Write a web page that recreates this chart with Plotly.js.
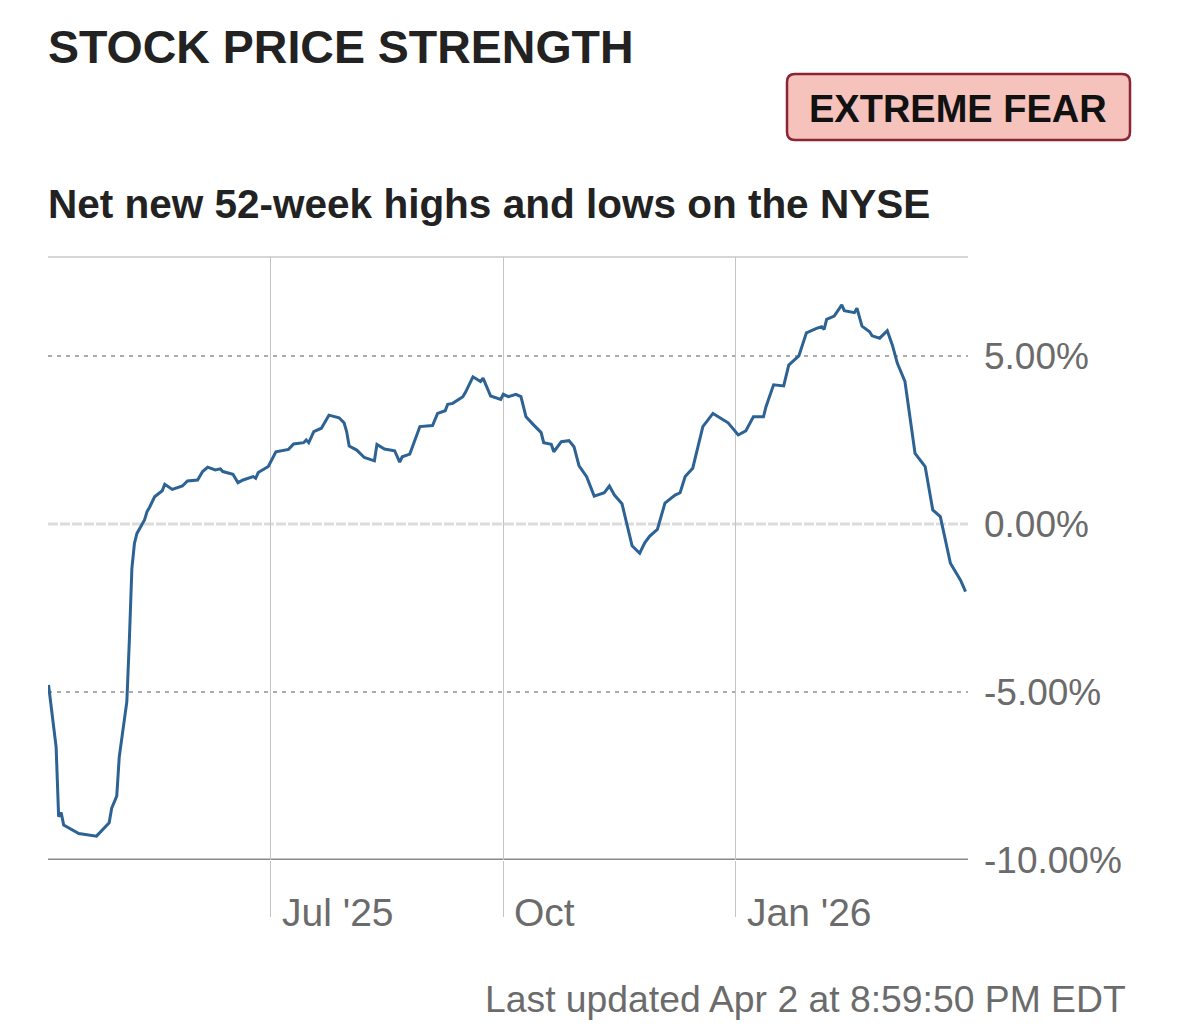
<!DOCTYPE html>
<html>
<head>
<meta charset="utf-8">
<script src="https://cdn.plot.ly/plotly-3.0.1.min.js"></script>
<style>
  html, body { margin: 0; padding: 0; background: #ffffff; }
  #chart { width: 1179px; height: 1033px; }
</style>
</head>
<body>
<div id="chart"></div>
<script>
// ---- Data ----
const chartTitle = "STOCK PRICE STRENGTH";
const chartSubtitle = "Net new 52-week highs and lows on the NYSE";
const ratingLabel = "EXTREME FEAR";
const footerText = "Last updated Apr 2 at 8:59:50 PM EDT";

const dates = [
  '2025-04-04','2025-04-07','2025-04-08','2025-04-09','2025-04-10','2025-04-16','2025-04-23','2025-04-28','2025-04-29',
  '2025-05-01','2025-05-02','2025-05-05','2025-05-06','2025-05-07','2025-05-08','2025-05-09','2025-05-12','2025-05-13','2025-05-14','2025-05-16','2025-05-19','2025-05-20','2025-05-23','2025-05-27','2025-05-29',
  '2025-06-02','2025-06-04','2025-06-06','2025-06-09','2025-06-11','2025-06-12','2025-06-16','2025-06-18','2025-06-20','2025-06-24','2025-06-25','2025-06-26','2025-06-30',
  '2025-07-03','2025-07-08','2025-07-10','2025-07-14','2025-07-15','2025-07-16','2025-07-18','2025-07-21','2025-07-24','2025-07-28','2025-07-30','2025-07-31',
  '2025-08-01','2025-08-04','2025-08-07','2025-08-11','2025-08-12','2025-08-15','2025-08-19','2025-08-21','2025-08-22','2025-08-25','2025-08-29',
  '2025-09-03','2025-09-05','2025-09-08','2025-09-09','2025-09-11','2025-09-15','2025-09-16','2025-09-19','2025-09-22','2025-09-23','2025-09-26','2025-09-30',
  '2025-10-01','2025-10-03','2025-10-06','2025-10-08','2025-10-10','2025-10-13','2025-10-16','2025-10-17','2025-10-20','2025-10-21','2025-10-24','2025-10-27','2025-10-29','2025-10-31',
  '2025-11-03','2025-11-06','2025-11-10','2025-11-12','2025-11-14','2025-11-17','2025-11-19','2025-11-21','2025-11-24','2025-11-26','2025-11-28',
  '2025-12-01','2025-12-04','2025-12-08','2025-12-10','2025-12-12','2025-12-15','2025-12-19','2025-12-23','2025-12-29',
  '2026-01-02','2026-01-05','2026-01-08','2026-01-12','2026-01-13','2026-01-16','2026-01-20','2026-01-22','2026-01-26','2026-01-29',
  '2026-02-02','2026-02-04','2026-02-05','2026-02-06','2026-02-09','2026-02-12','2026-02-13','2026-02-17','2026-02-18','2026-02-20','2026-02-23','2026-02-24','2026-02-27',
  '2026-03-02','2026-03-04','2026-03-06','2026-03-09','2026-03-11','2026-03-13','2026-03-17','2026-03-20','2026-03-23','2026-03-27','2026-03-31',
  '2026-04-02'
];

const netHighsLows = [
  -4.79,-6.63,-8.71,-8.59,-8.96,-9.21,-9.29,-8.89,-8.46,
  -8.10,-6.93,-5.29,-3.45,-1.32,-0.58,-0.28,0.12,0.37,0.50,0.81,0.99,1.18,1.03,1.13,1.28,
  1.31,1.56,1.69,1.61,1.64,1.56,1.48,1.23,1.31,1.41,1.36,1.53,1.71,
  2.15,2.22,2.38,2.42,2.50,2.42,2.75,2.85,3.24,3.16,3.01,2.75,
  2.32,2.20,1.98,1.88,2.37,2.23,2.18,1.84,2.00,2.08,2.90,
  2.93,3.29,3.37,3.56,3.59,3.79,3.91,4.38,4.24,4.34,3.81,3.71,
  3.86,3.79,3.86,3.79,3.19,2.95,2.72,2.42,2.37,2.15,2.45,2.48,2.30,1.73,
  1.41,0.83,0.93,1.13,0.86,0.60,0.02,-0.65,-0.87,-0.56,-0.36,
  -0.16,0.62,0.86,0.93,1.41,1.66,2.90,3.29,3.01,
  2.65,2.77,3.19,3.19,3.49,4.14,4.11,4.73,5.00,5.69,
  5.82,5.87,5.79,6.09,6.19,6.52,6.35,6.29,6.42,5.89,5.72,5.60,5.53,
  5.75,5.33,4.78,4.24,3.19,2.10,1.71,0.42,0.22,-1.17,-1.67,
  -2.01
];

const xTickDates = ['2025-07-01', '2025-10-01', '2026-01-01'];
const xTickLabels = ["Jul '25", 'Oct', "Jan '26"];
const yTickValues = [-10, -5, 0, 5];
const yTickLabels = ['-10.00%', '-5.00%', '0.00%', '5.00%'];

// ---- Layout helpers (pixel -> paper fraction) ----
const W = 1179, H = 1033;
const M = { l: 48, r: 211, t: 257, b: 173 };
const PW = W - M.l - M.r, PH = H - M.t - M.b;
const px = x => (x - M.l) / PW;
const py = y => (H - M.b - y) / PH;

const FONT = '"Liberation Sans", Arial, Helvetica, sans-serif';

function roundRectPath(x0, y0, x1, y1, r) {
  const P = (x, y) => px(x) + ',' + py(y);
  return 'M' + P(x0 + r, y0) +
    ' L' + P(x1 - r, y0) + ' Q' + P(x1, y0) + ' ' + P(x1, y0 + r) +
    ' L' + P(x1, y1 - r) + ' Q' + P(x1, y1) + ' ' + P(x1 - r, y1) +
    ' L' + P(x0 + r, y1) + ' Q' + P(x0, y1) + ' ' + P(x0, y1 - r) +
    ' L' + P(x0, y0 + r) + ' Q' + P(x0, y0) + ' ' + P(x0 + r, y0) + ' Z';
}

const trace = {
  type: 'scatter',
  mode: 'lines',
  x: dates,
  y: netHighsLows,
  line: { color: '#2c6294', width: 3 },
  hoverinfo: 'skip'
};

const shapes = [
  { type: 'line', xref: 'paper', yref: 'paper', x0: 0, x1: 1, y0: 1, y1: 1,
    line: { color: '#c8c8c8', width: 1.5 }, layer: 'below' },
  { type: 'line', xref: 'paper', yref: 'y', x0: 0, x1: 1, y0: 5, y1: 5,
    line: { color: '#ababab', width: 2, dash: '4px,5px' }, layer: 'below' },
  { type: 'line', xref: 'paper', yref: 'y', x0: 0, x1: 1, y0: -5, y1: -5,
    line: { color: '#ababab', width: 2, dash: '4px,5px' }, layer: 'below' },
  { type: 'line', xref: 'paper', yref: 'y', x0: 0, x1: 1, y0: 0, y1: 0,
    line: { color: '#dcdcdc', width: 3, dash: '10px,2px' }, layer: 'below' },
  { type: 'line', xref: 'paper', yref: 'y', x0: 0, x1: 1, y0: -10, y1: -10,
    line: { color: '#8a8a8a', width: 3 }, layer: 'below' },
  { type: 'path', xref: 'paper', yref: 'paper',
    path: roundRectPath(787, 74, 1130, 140, 8),
    fillcolor: '#f5c2bc', line: { color: '#8c2433', width: 2.5 } }
];

const annotations = [
  { xref: 'paper', yref: 'paper', x: px(46), y: py(47), xanchor: 'left', yanchor: 'middle',
    text: chartTitle, showarrow: false,
    font: { family: FONT, size: 46.5, color: '#222222', weight: 'bold' } },
  { xref: 'paper', yref: 'paper', x: px(46), y: py(204), xanchor: 'left', yanchor: 'middle',
    text: chartSubtitle, showarrow: false,
    font: { family: FONT, size: 40.5, color: '#222222', weight: 'bold' } },
  { xref: 'paper', yref: 'paper', x: px(958), y: py(109), xanchor: 'center', yanchor: 'middle',
    text: ratingLabel, showarrow: false,
    font: { family: FONT, size: 38, color: '#111111', weight: 'bold' } },
  { xref: 'paper', yref: 'paper', x: px(1128), y: py(999), xanchor: 'right', yanchor: 'middle',
    text: footerText, showarrow: false,
    font: { family: FONT, size: 37.3, color: '#6b6b6b' } }
];

xTickDates.forEach((d, i) => {
  annotations.push({
    xref: 'x', yref: 'paper', x: d, y: py(912), xanchor: 'left', yanchor: 'middle',
    xshift: 9, text: xTickLabels[i], showarrow: false,
    font: { family: FONT, size: 39, color: '#6b6b6b' }
  });
});

const layout = {
  width: W, height: H,
  margin: M,
  paper_bgcolor: '#ffffff',
  plot_bgcolor: '#ffffff',
  showlegend: false,
  xaxis: {
    type: 'date',
    range: ['2025-04-03 19:00', '2026-04-02 23:00'],
    tickvals: xTickDates,
    showticklabels: false,
    showgrid: true, gridcolor: '#c4c4c4', gridwidth: 1,
    ticks: 'outside', ticklen: 56, tickcolor: '#c4c4c4', tickwidth: 1,
    zeroline: false, showline: false, fixedrange: true
  },
  yaxis: {
    range: [-10, 7.946],
    side: 'right',
    tickvals: yTickValues,
    ticktext: yTickLabels,
    showgrid: false, zeroline: false, showline: false,
    ticks: '', ticklabelstandoff: 15,
    tickfont: { family: FONT, size: 37, color: '#6b6b6b' },
    fixedrange: true
  },
  shapes: shapes,
  annotations: annotations
};

Plotly.newPlot('chart', [trace], layout, { displayModeBar: false, staticPlot: true });
</script>
</body>
</html>
